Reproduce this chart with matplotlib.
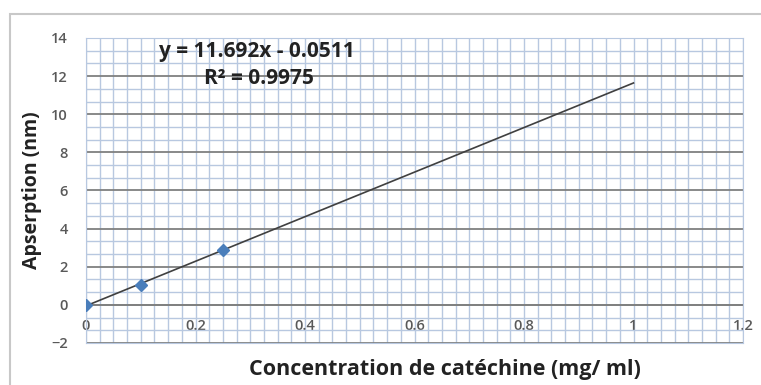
import numpy as np
import matplotlib
matplotlib.use("Agg")
import matplotlib.pyplot as plt
from matplotlib.patches import Rectangle
from matplotlib.ticker import MultipleLocator

# measured points (catechine calibration)
conc = [0.0, 0.1, 0.25]
absorb = [0.0, 1.05, 2.9]

# linear trend line reported on the chart
slope = 11.692
intercept = -0.0511
r2 = 0.9975
trend_x = [0.0, 1.0]

x_ticks = [0, 0.2, 0.4, 0.6, 0.8, 1, 1.2]
x_tick_labels = ["0", "0.2", "0.4", "0.6", "0.8", "1", "1.2"]
y_ticks = [-2, 0, 2, 4, 6, 8, 10, 12, 14]

plt.rcParams["font.family"] = ["Open Sans", "DejaVu Sans"]

fig = plt.figure(figsize=(7.61, 3.85), dpi=100)
fig.patches.append(Rectangle((10 / 761, -0.1), 1.2, 1 - 14 / 385 + 0.1,
                             transform=fig.transFigure, fill=False,
                             edgecolor="#c8c8c8", linewidth=1.5))

ax = fig.add_axes([86 / 761, 1 - 343 / 385, (743 - 86) / 761, (343 - 38) / 385])
ax.set_xlim(0, 1.2)
ax.set_ylim(-2, 14)

# grid: light blue minor, dark grey major horizontals
ax.xaxis.set_minor_locator(MultipleLocator(0.025))
ax.yaxis.set_minor_locator(MultipleLocator(2 / 3))
ax.grid(which="minor", color="#b8c8e0", linewidth=1.0)
ax.grid(which="major", axis="x", color="#b8c8e0", linewidth=1.0)
ax.grid(which="major", axis="y", color="#7f8080", linewidth=1.3)
ax.set_axisbelow(True)
for s in ax.spines.values():
    s.set_color("#b8c8e0")
ax.axhline(0, color="#7f8080", linewidth=1.3, zorder=1)

ax.set_xticks(x_ticks)
ax.set_xticklabels(x_tick_labels)
ax.set_yticks(y_ticks)
ax.tick_params(which="both", length=0)
ax.tick_params(axis="y", labelsize=10.5, labelcolor="#595959", pad=13)
ax.tick_params(axis="x", labelsize=10.5, labelcolor="#595959", pad=-17)
for lab in ax.get_xticklabels() + ax.get_yticklabels():
    lab.set_fontweight("semibold")

tx = np.array(trend_x)
ax.plot(tx, slope * tx + intercept, color="#404040", linewidth=1.2, zorder=3)
ax.plot(conc, absorb, linestyle="none", marker="D", markersize=6,
        color="#4a7ebb", zorder=4)

ax.text(0.312, 13.3, f"y = {slope:.3f}x - {abs(intercept):.4f}", ha="center",
        va="center", fontsize=15, fontweight="bold", color="#222222")
ax.text(0.316, 11.9, f"R\u00b2 = {r2:.4f}", ha="center", va="center",
        fontsize=15, fontweight="bold", color="#222222")

fig.text(445 / 761, 1 - 370 / 385, "Concentration de catéchine (mg/ ml)",
         ha="center", va="center", fontsize=15.5, fontweight="bold", color="#222222")
fig.text(32 / 761, 1 - 190 / 385, "Apserption (nm)", ha="center", va="center",
         rotation=90, fontsize=14, fontweight="bold", color="#222222")

fig.savefig("out.png", dpi=100)
